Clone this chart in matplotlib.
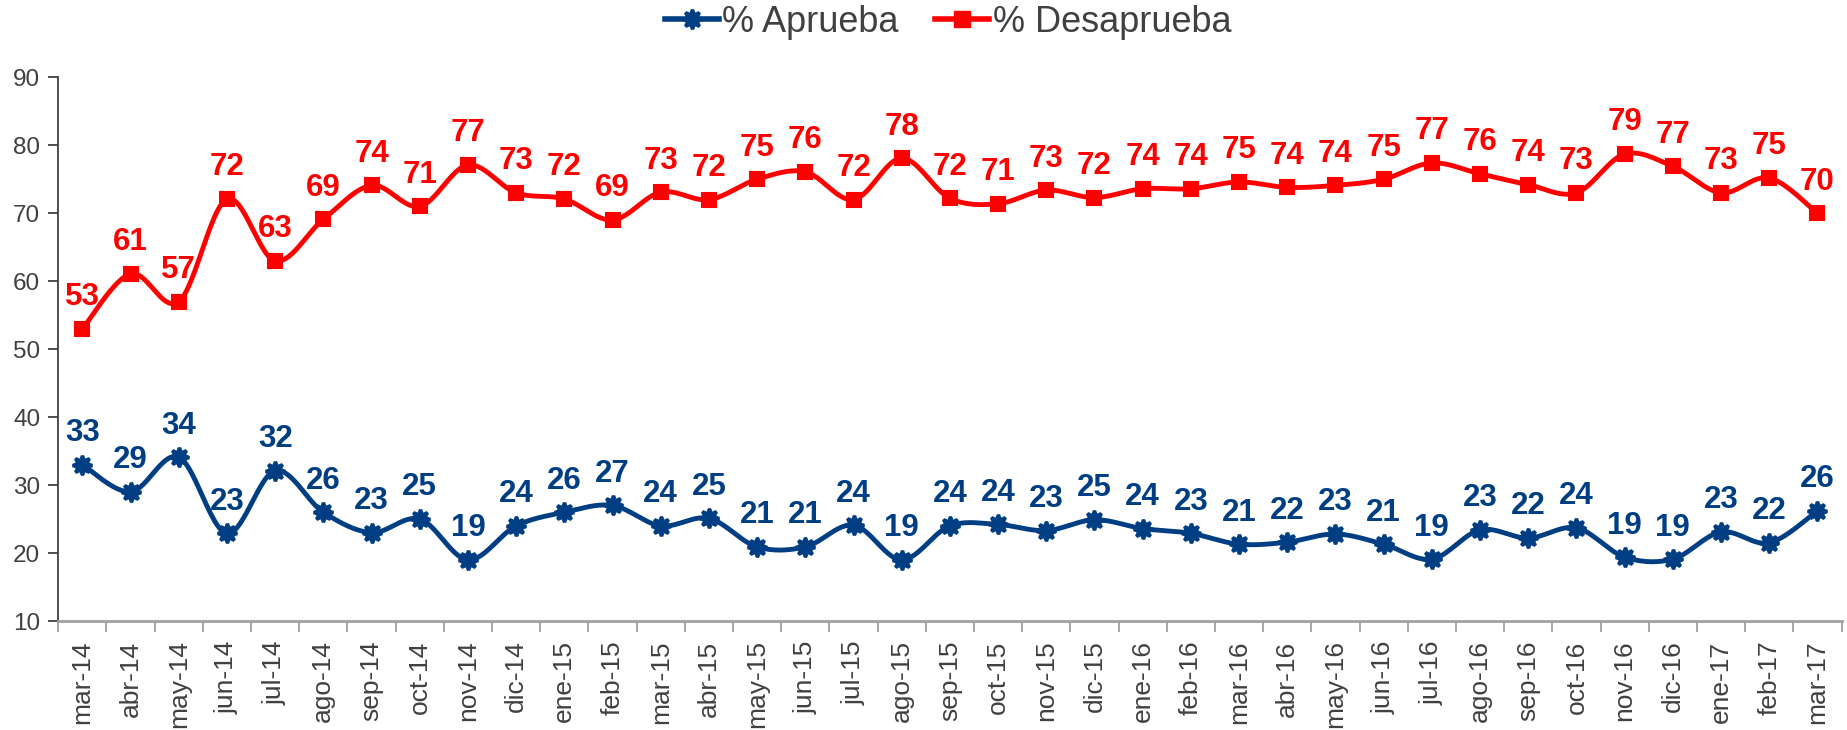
import numpy as np
import matplotlib
matplotlib.use("Agg")
import matplotlib.pyplot as plt
from matplotlib.lines import Line2D

plt.rcParams['font.family'] = ['Liberation Sans', 'DejaVu Sans']

months = ["mar-14", "abr-14", "may-14", "jun-14", "jul-14", "ago-14", "sep-14", "oct-14",
          "nov-14", "dic-14", "ene-15", "feb-15", "mar-15", "abr-15", "may-15", "jun-15",
          "jul-15", "ago-15", "sep-15", "oct-15", "nov-15", "dic-15", "ene-16", "feb-16",
          "mar-16", "abr-16", "may-16", "jun-16", "jul-16", "ago-16", "sep-16", "oct-16",
          "nov-16", "dic-16", "ene-17", "feb-17", "mar-17"]

aprueba = [33.0, 29.0, 34.1, 22.9, 32.1, 26.0, 23.0, 25.0, 19.0, 24.0, 26.0, 27.0, 24.0,
           25.1, 20.9, 20.9, 24.1, 19.0, 24.0, 24.2, 23.3, 24.9, 23.6, 22.9, 21.3, 21.6,
           22.8, 21.3, 19.1, 23.4, 22.2, 23.7, 19.4, 19.1, 23.1, 21.5, 26.2]
aprueba_labels = ["33", "29", "34", "23", "32", "26", "23", "25", "19", "24", "26", "27", "24",
                  "25", "21", "21", "24", "19", "24", "24", "23", "25", "24", "23", "21", "22",
                  "23", "21", "19", "23", "22", "24", "19", "19", "23", "22", "26"]

desaprueba = [53.0, 61.1, 57.0, 72.1, 63.0, 69.1, 74.1, 71.0, 77.1, 73.0, 72.1, 69.0, 73.1,
              72.0, 75.0, 76.1, 72.0, 78.1, 72.2, 71.4, 73.4, 72.3, 73.6, 73.6, 74.6, 73.8,
              74.1, 75.0, 77.4, 75.8, 74.2, 73.0, 78.7, 76.9, 73.0, 75.2, 70.0]
desaprueba_labels = ["53", "61", "57", "72", "63", "69", "74", "71", "77", "73", "72", "69", "73",
                     "72", "75", "76", "72", "78", "72", "71", "73", "72", "74", "74", "75", "74",
                     "74", "75", "77", "76", "74", "73", "79", "77", "73", "75", "70"]

BLUE = "#003E84"
RED = "#FF0000"
GRAY_TXT = "#404040"


def smooth(x, y, n=30):
    """Excel-like smoothed line (Catmull-Rom via cubic Bezier)."""
    x = np.asarray(x, float)
    y = np.asarray(y, float)
    P = np.column_stack([x, y])
    Pext = np.vstack([P[0], P, P[-1]])
    out = []
    t = np.linspace(0, 1, n)[:, None]
    for i in range(len(P) - 1):
        p0, p1, p2, p3 = Pext[i], Pext[i + 1], Pext[i + 2], Pext[i + 3]
        c1 = p1 + (p2 - p0) / 6.0
        c2 = p2 - (p3 - p1) / 6.0
        seg = ((1 - t) ** 3) * p1 + 3 * ((1 - t) ** 2) * t * c1 + 3 * (1 - t) * t ** 2 * c2 + t ** 3 * p2
        out.append(seg if i == 0 else seg[1:])
    out = np.vstack(out)
    return out[:, 0], out[:, 1]


fig = plt.figure(figsize=(18.47, 7.30), dpi=100)
ax = fig.add_axes([58.3 / 1847, 1 - 621 / 730, (1841.5 - 58.3) / 1847, (621 - 77.3) / 730])

xs = np.arange(len(months))

for vals, labs, color, marker, ms, mew in [
    (aprueba, aprueba_labels, BLUE, (8, 1, 0), 14, 2.5),
    (desaprueba, desaprueba_labels, RED, "s", 10.5, 1.5),
]:
    sx, sy = smooth(xs, vals)
    ax.plot(sx, sy, color=color, lw=3.5, solid_capstyle="round", zorder=3)
    ax.plot(xs, vals, ls="none", marker=marker, ms=ms, color=color, mec=color, mew=mew, zorder=4)
    for xi, v, lab in zip(xs, vals, labs):
        ax.annotate(lab, (xi, v), xytext=(0, 17), textcoords="offset points",
                    ha="center", va="baseline", fontsize=22.5, fontweight="bold", color=color,
                    zorder=5)

ax.set_xlim(-0.5, len(months) - 0.5)
ax.set_ylim(10, 90)
ax.set_yticks(range(10, 91, 10))
ax.set_xticks(np.arange(len(months) + 1) - 0.5, minor=False)
ax.set_xticklabels([])
ax.set_xticks(xs, minor=True)
ax.set_xticklabels(months, minor=True, rotation=90, fontsize=19, color=GRAY_TXT)
ax.tick_params(axis="x", which="minor", length=0, pad=14)
ax.tick_params(axis="x", which="major", length=8, width=1.3, color="#A0A0A0", direction="out")
ax.tick_params(axis="y", length=7, width=1.3, color="#404040", labelsize=17.5, labelcolor=GRAY_TXT, pad=6)

for s in ["top", "right"]:
    ax.spines[s].set_visible(False)
ax.spines["left"].set_color("#404040")
ax.spines["left"].set_linewidth(1.3)
ax.spines["bottom"].set_color("#A0A0A0")
ax.spines["bottom"].set_linewidth(2)

handles = [
    Line2D([], [], color=BLUE, lw=4, marker=(8, 1, 0), ms=14, mec=BLUE, mew=2.5),
    Line2D([], [], color=RED, lw=4, marker="s", ms=11, mec=RED),
]
fig.legend(handles, ["% Aprueba", "% Desaprueba"], loc="center",
           bbox_to_anchor=(948 / 1847, 1 - 22 / 730), ncol=2, frameon=False,
           fontsize=26, labelcolor=GRAY_TXT, handlelength=1.5, handletextpad=0.1,
           columnspacing=1.0, borderpad=0)

fig.savefig("out.png", dpi=100)
